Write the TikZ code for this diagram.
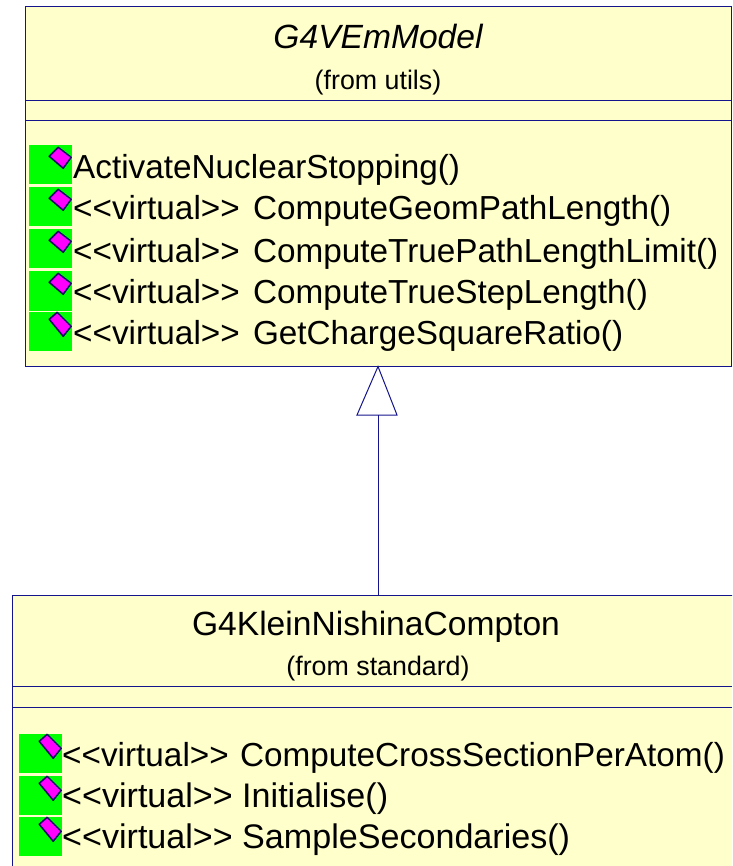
\documentclass[tikz,border=0pt]{standalone}
\usepackage{fontspec}
\setmainfont{Liberation Sans}
\usetikzlibrary{calc}
\definecolor{boxfill}{RGB}{255,255,204}
\definecolor{boxline}{RGB}{20,20,140}
\definecolor{opgreen}{RGB}{0,255,0}
\definecolor{opmagenta}{RGB}{255,0,255}
\tikzset{
  classbox/.style={draw=boxline, fill=boxfill, line width=1pt, rectangle, inner sep=0pt},
  compline/.style={boxline, line width=1pt},
  member/.style={anchor=west, inner sep=0pt, font=\fontsize{33.3}{34}\selectfont},
  memberwide/.style={anchor=west, inner sep=0pt, font=\fontsize{34.1}{35}\selectfont},
  titletext/.style={inner sep=0pt, font=\fontsize{33.6}{34}\selectfont},
  fromtext/.style={inner sep=0pt, font=\fontsize{26.8}{27}\selectfont},
  opmark/.style={fill=opgreen, draw=none, inner sep=0pt, minimum width=43pt, minimum height=39pt},
  opgem/.style={fill=opmagenta, draw=boxline!70!black, line width=1.5pt, line join=round}
}
% green square with the flat gem in its upper right corner
\newcommand{\opicon}[2]{
  \node[opmark] (#1) at (#2) {};
  \draw[opgem] ($(#1.north east)+(-23,11)$) -- ($(#1.north east)+(-14,2)$) -- ($(#1.north east)+(-1,12)$)
    -- ($(#1.north east)+(-9,23)$) -- cycle;
}
% same, with the steeper gem
\newcommand{\opiconb}[2]{
  \node[opmark] (#1) at (#2) {};
  \draw[opgem] ($(#1.north east)+(-23,8)$) -- ($(#1.north east)+(-15,1)$) -- ($(#1.north east)+(-1,15)$)
    -- ($(#1.north east)+(-9,25)$) -- cycle;
}
\begin{document}
\begin{tikzpicture}[x=1pt,y=-1pt]
                \useasboundingbox (0,0) rectangle (732,866);
                \clip (0,0) rectangle (732,866);
                % the two classes
                \node[classbox, minimum width=706pt, minimum height=359pt] (emmodel) at (378,186.5) {};
                \node[classbox, minimum width=732pt, minimum height=300pt] (compton) at (378,745) {};
                \coordinate (emline1l) at (25,100.5);
                \coordinate (emline1r) at (731,100.5);
                \coordinate (emline2l) at (25,121);
                \coordinate (emline2r) at (731,121);
                \coordinate (coline1l) at (12,686.5);
                \coordinate (coline1r) at (732,686.5);
                \coordinate (coline2l) at (12,707);
                \coordinate (coline2r) at (732,707);
                \draw[compline] (emline1l) -- (emline1r);
                \draw[compline] (emline2l) -- (emline2r);
                \draw[compline] (coline1l) -- (coline1r);
                \draw[compline] (coline2l) -- (coline2r);
                % inheritance arrow
                \coordinate (triapex) at (emmodel.south);
                \coordinate (trileft) at (357,415);
                \coordinate (triright) at (397,415);
                \coordinate (tribase) at (378,415);
                \draw[boxline, line width=1pt, fill=white, line join=miter] (triapex) -- (trileft) -- (triright) -- cycle;
                \draw[boxline, line width=1pt] (tribase) -- (compton.north);
                % titles
                \node[titletext] (emtitle) at (378,37) {\itshape G4VEmModel};
                \node[fromtext] (emfrom) at (378,83) {(from utils)};
                \node[titletext] (cotitle) at (376,627) {G4KleinNishinaCompton};
                \node[fromtext] (cofrom) at (378,669) {(from standard)};
                % operations of the base class
                \opicon{emop1}{50.5,165}
                \opicon{emop2}{50.5,207}
                \opicon{emop3}{50.5,249}
                \opicon{emop4}{50.5,291}
                \opiconb{emop5}{50.5,331}
                \node[member] (emtext1) at (73,170) {ActivateNuclearStopping()};
                \node[member] (emtext2) at (73,211) {<{}<virtual>{}>\hspace{4pt} ComputeGeomPathLength()};
                \node[member] (emtext3) at (73,254) {<{}<virtual>{}>\hspace{4pt} ComputeTruePathLengthLimit()};
                \node[member] (emtext4) at (73,295) {<{}<virtual>{}>\hspace{4pt} ComputeTrueStepLength()};
                \node[member] (emtext5) at (73,336) {<{}<virtual>{}>\hspace{4pt} GetChargeSquareRatio()};
                % operations of the derived class
                \opiconb{coop1}{40.5,753}
                \opiconb{coop2}{40.5,795}
                \opiconb{coop3}{40.5,836}
                \node[member] (cotext1) at (62,758) {<{}<virtual>{}>\hspace{2pt} ComputeCrossSectionPerAtom()};
                \node[memberwide] (cotext2) at (62,799) {<{}<virtual>{}> Initialise()};
                \node[memberwide] (cotext3) at (62,840) {<{}<virtual>{}> SampleSecondaries()};
\end{tikzpicture}
\end{document}
